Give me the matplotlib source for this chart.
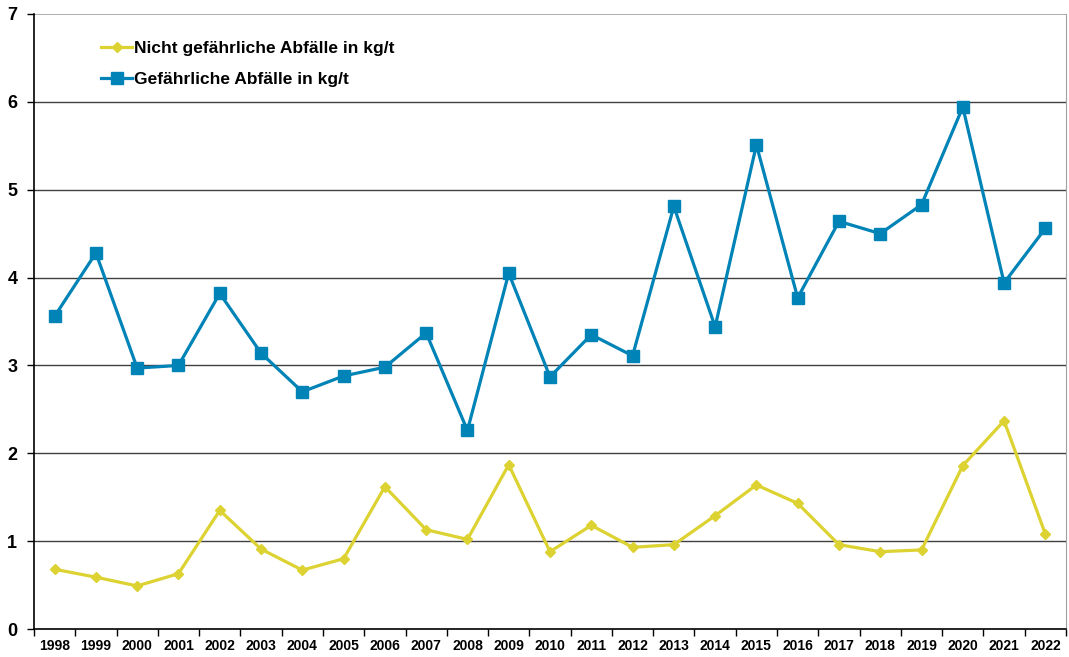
import numpy as np
import matplotlib
matplotlib.use("Agg")
import matplotlib.pyplot as plt

years = [str(y) for y in range(1998, 2023)]

# Abfälle je Tonne, Werte in kg/t
nicht_gefaehrlich = [0.68, 0.59, 0.49, 0.63, 1.35, 0.91, 0.67, 0.80, 1.62, 1.13,
                     1.02, 1.87, 0.88, 1.18, 0.93, 0.96, 1.29, 1.64, 1.43, 0.96,
                     0.88, 0.90, 1.86, 2.37, 1.08]
gefaehrlich = [3.56, 4.28, 2.97, 3.00, 3.82, 3.14, 2.70, 2.88, 2.98, 3.37,
               2.26, 4.05, 2.87, 3.35, 3.11, 4.81, 3.44, 5.51, 3.77, 4.64,
               4.50, 4.83, 5.94, 3.94, 4.56]

yellow = "#DCD232"
blue = "#0083B6"

plt.rcParams['font.family'] = ['Liberation Sans', 'DejaVu Sans']

fig = plt.figure(figsize=(10.69, 6.57), dpi=100)
ax = fig.add_axes([0.0318, 0.0426, 0.9654, 0.9361])

x = np.arange(len(years))
ax.plot(x, nicht_gefaehrlich, color=yellow, lw=2.3, marker="D", ms=5.5,
        label="Nicht gefährliche Abfälle in kg/t", zorder=3)
ax.plot(x, gefaehrlich, color=blue, lw=2.3, marker="s", ms=8.5,
        label="Gefährliche Abfälle in kg/t", zorder=3)

ax.set_xlim(-0.5, len(years) - 0.5)
ax.set_ylim(0, 7)

# horizontal grid lines
for v in range(1, 7):
    ax.axhline(v, color="#404040", lw=1.0, zorder=1)
ax.axhline(7, color="#a0a0a0", lw=1.2, zorder=1)

ax.spines["top"].set_visible(False)
ax.spines["right"].set_color("#a0a0a0")
ax.spines["left"].set_color("black")
ax.spines["bottom"].set_color("black")
ax.spines["left"].set_linewidth(1.2)
ax.spines["bottom"].set_linewidth(1.2)

ax.set_yticks(range(0, 8))
ax.set_yticklabels([str(v) for v in range(0, 8)], fontsize=13, fontweight="bold")
ax.tick_params(axis="y", direction="out", length=5, width=1, pad=7)

# category ticks between the years, labels centred
ax.set_xticks(np.arange(-0.5, len(years)), minor=False)
ax.set_xticklabels([])
ax.set_xticks(x, minor=True)
ax.set_xticklabels(years, minor=True, fontsize=10, fontweight="bold")
ax.tick_params(axis="x", which="major", direction="out", length=5, width=1)
ax.tick_params(axis="x", which="minor", length=0, pad=7)

leg = ax.legend(loc="upper left", bbox_to_anchor=(0.05, 0.982), frameon=False,
                prop={"size": 12.5, "weight": "bold"}, handlelength=1.8,
                handletextpad=0.1, labelspacing=0.9)

fig.savefig("out.png", dpi=100)
